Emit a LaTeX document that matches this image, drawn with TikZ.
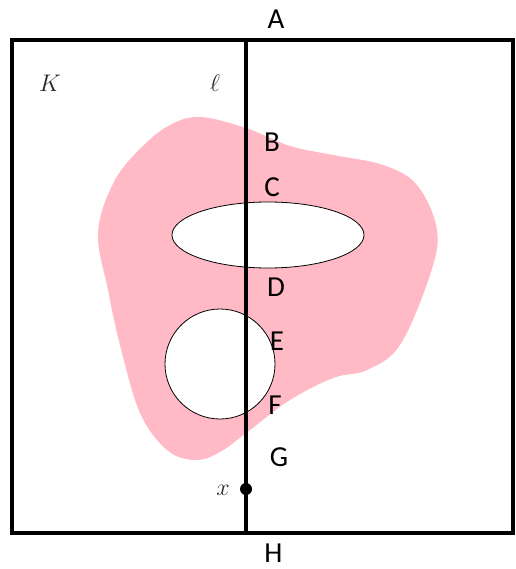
\RequirePackage{fix-cm}
\documentclass[tikz,border=0pt]{standalone}
\usepackage{fontspec}
\usetikzlibrary{shapes.geometric}
\newfontfamily\lblfont{Carlito}
\begin{document}
\begin{tikzpicture}[x=1pt,y=-1pt,
  lbl/.style={font=\lblfont\fontsize{29}{30}\selectfont, inner sep=0pt},
  mlbl/.style={text=black!85, inner sep=0pt, font=\fontsize{24}{26}\selectfont},
  frame/.style={line width=4pt},
  hole/.style={fill=white, draw=black, line width=0.8pt},
  blob/.style={fill={rgb,255:red,255;green,186;blue,198}, draw=none}]
\useasboundingbox (0,0) rectangle (515,569);
% pink region
\fill[blob] plot[smooth cycle, tension=0.6] coordinates {
 (200,117) (246,128) (290,146) (333,155) (383,165) (417,185) (437,230)
 (430,275) (400,345) (367,370) (333,378) (290,400) (250,430) (220,452)
 (195,460) (167,450) (140,413) (120,345) (108,290) (98,232) (115,180)
 (143,146) (170,125)};
% holes
\node[hole, ellipse, minimum width=192pt, minimum height=66pt, inner sep=0pt] (ell) at (268,235) {};
\node[hole, circle, minimum size=110pt, inner sep=0pt] (circ) at (220,364) {};
% frame
\draw[frame] (12,40.5) rectangle (513,532.5);
% line l
\coordinate (top) at (246,40.5);
\coordinate (bot) at (246,532.5);
\draw[line width=4pt] (top) -- (bot);
\node[circle, fill=black, minimum size=12pt, inner sep=0pt] (xpt) at (246,489) {};
% labels
\node[lbl] (A) at (276,19) {A};
\node[lbl] (B) at (272,142) {B};
\node[lbl] (C) at (272,187) {C};
\node[lbl] (D) at (276,287) {D};
\node[lbl] (E) at (277,341) {E};
\node[lbl] (F) at (275,405) {F};
\node[lbl] (G) at (279,457) {G};
\node[lbl] (H) at (273.5,553) {H};
\node[mlbl] (K) at (50,83) {$K$};
\node[mlbl] (ell-lbl) at (215,83) {$\ell$};
\node[mlbl] (x) at (223,490) {$x$};
\end{tikzpicture}
\end{document}
